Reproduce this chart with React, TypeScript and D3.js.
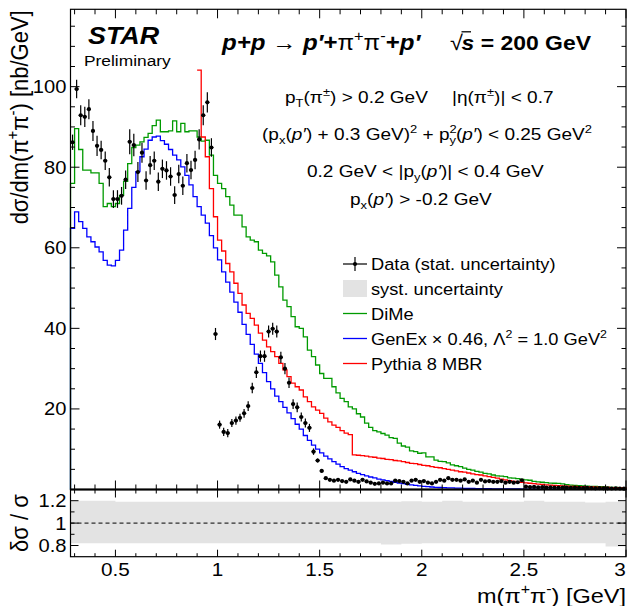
import React from "react";
import * as d3 from "d3";

const WIDTH = 632;
const HEIGHT = 606;

// invariant-mass binning (GeV)
const M_LO = 0.28;
const M_HI = 3.0;
const BIN = 0.02;

// measured cross section per 20 MeV bin [nb/GeV] and its statistical error
const dataValues = [
  86.2, 99.4, 92.9, 92.5, 94.4, 89.0, 85.3, 84.3, 81.6, 77.5,
  72.1, 72.1, 72.9, 76.9, 86.3, 85.5, 78.8, 83.6, 76.7, 80.5,
  81.6, 76.4, 79.6, 79.2, 77.7, 73.1, 78.3, 75.4, 81.0, 79.3,
  81.8, 86.9, 92.9, 96.1, 84.9, 38.6, 16.1, 14.3, 14.0, 16.5,
  17.1, 17.8, 18.9, 20.7, 25.2, 29.1, 33.1, 33.1, 39.2, 39.9,
  39.2, 32.8, 30.0, 26.5, 21.2, 20.4, 18.0, 16.5, 15.3, 9.4,
  7.2, 4.6, 2.8, 2.4, 2.2, 2.4, 2.1, 1.9, 2.5, 2.2,
  1.9, 2.4, 2.0, 1.7, 1.4, 1.5, 1.7, 1.5, 1.5, 2.2,
  2.1, 1.9, 1.5, 2.2, 2.4, 1.9, 2.1, 1.7, 1.5, 1.9,
  2.4, 2.2, 2.8, 2.4, 2.4, 2.2, 2.5, 1.9, 2.2, 1.7,
  2.4, 2.0, 2.1, 1.9, 1.9, 2.1, 1.7, 1.9, 1.7, 1.8,
  2.3, 0.7, 0.6, 0.65, 0.55, 0.6, 0.5, 0.55, 0.5, 0.45,
  0.5, 0.45, 0.4, 0.45, 0.4, 0.35, 0.4, 0.35, 0.3, 0.35,
  0.3, 0.3, 0.25, 0.3, 0.25, 0.2,
];
const dataErrors = [
  1.9, 2.3, 2.5, 2.5, 2.5, 2.5, 2.5, 2.3, 2.3, 2.3,
  2.2, 2.2, 2.2, 2.3, 3.1, 2.8, 2.5, 2.5, 2.3, 2.3,
  2.3, 2.3, 2.3, 2.3, 2.3, 2.2, 2.3, 2.3, 2.3, 2.3,
  2.3, 2.5, 2.5, 2.5, 2.3, 1.5, 1.0, 1.0, 1.0, 1.0,
  1.0, 1.0, 1.1, 1.2, 1.3, 1.4, 1.4, 1.4, 1.5, 1.5,
  1.5, 1.4, 1.4, 1.3, 1.2, 1.2, 1.1, 1.1, 1.0, 0.8,
  0.5, 0.4, 0.3, 0.25, 0.25, 0.25, 0.25, 0.25, 0.25, 0.25,
  0.25, 0.25, 0.25, 0.25, 0.25, 0.25, 0.25, 0.25, 0.25, 0.25,
  0.25, 0.25, 0.25, 0.25, 0.25, 0.25, 0.25, 0.25, 0.25, 0.25,
  0.25, 0.25, 0.25, 0.25, 0.25, 0.25, 0.25, 0.25, 0.25, 0.25,
  0.25, 0.25, 0.25, 0.25, 0.25, 0.25, 0.25, 0.25, 0.25, 0.25,
  0.25, 0.15, 0.15, 0.15, 0.15, 0.15, 0.15, 0.15, 0.15, 0.15,
  0.15, 0.15, 0.15, 0.15, 0.15, 0.15, 0.15, 0.15, 0.15, 0.15,
  0.15, 0.15, 0.15, 0.15, 0.15, 0.15,
];

// DiMe prediction, same binning
const dimeValues = [
  76.0, 89.6, 84.4, 79.3, 79.3, 78.6, 78.6, 76.0, 70.2, 71.0,
  70.2, 71.0, 73.0, 76.5, 80.9, 84.9, 85.5, 86.3, 87.4, 88.4,
  90.3, 91.7, 88.8, 88.8, 89.0, 91.5, 88.8, 90.9, 88.8, 89.0,
  89.0, 87.5, 86.5, 86.7, 83.0, 78.0, 76.0, 74.7, 72.7, 70.6,
  68.1, 68.1, 65.2, 62.7, 61.9, 61.5, 59.4, 58.6, 58.0, 56.5,
  53.2, 50.3, 47.0, 45.4, 42.9, 40.4, 40.0, 37.9, 34.6, 33.0,
  30.9, 28.8, 27.6, 27.6, 25.5, 24.0, 22.6, 21.8, 20.5, 20.0,
  18.8, 18.0, 16.5, 15.4, 14.6, 14.3, 13.9, 13.5, 12.9, 12.7,
  11.5, 10.8, 10.5, 9.6, 9.4, 9.0, 9.1, 8.1, 8.1, 7.3,
  7.0, 6.9, 6.6, 6.1, 5.9, 5.7, 5.3, 5.0, 4.8, 4.5,
  4.3, 4.0, 3.9, 3.6, 3.4, 3.3, 3.2, 2.9, 2.8, 2.7,
  2.5, 2.4, 2.3, 2.0, 1.9, 1.8, 1.7, 1.6, 1.55, 1.5,
  1.4, 1.2, 1.1, 1.0, 0.95, 0.9, 0.85, 0.8, 0.75, 0.7,
  0.7, 0.6, 0.55, 0.5, 0.4, 0.35,
];

// GenEx prediction (scaled by 0.46), same binning
const genexValues = [
  64.8, 68.9, 66.5, 64.8, 62.7, 61.5, 60.2, 59.0, 56.9, 55.7,
  55.5, 56.9, 59.4, 64.4, 69.8, 75.0, 78.9, 82.6, 84.5, 86.7,
  87.5, 87.7, 86.6, 85.7, 84.4, 83.0, 81.8, 80.1, 78.0, 75.6,
  72.7, 70.2, 68.1, 66.1, 63.0, 60.0, 57.0, 54.0, 51.5, 49.0,
  46.5, 44.0, 41.0, 38.5, 36.0, 33.6, 31.3, 29.0, 26.8, 25.0,
  23.2, 21.8, 20.4, 19.0, 17.6, 16.2, 15.0, 13.4, 12.2, 11.0,
  10.0, 9.1, 8.3, 7.6, 6.9, 6.3, 5.7, 5.2, 4.8, 4.4,
  4.0, 3.7, 3.4, 3.1, 2.9, 2.6, 2.4, 2.2, 2.0, 1.8,
  1.6, 1.45, 1.3, 1.15, 1.0, 0.9, 0.8, 0.7, 0.62, 0.55,
  0.5, 0.45, 0.42, 0.39, 0.36, 0.33, 0.3, 0.28, 0.26, 0.24,
  0.22, 0.2, 0.19, 0.18, 0.17, 0.16, 0.15, 0.14, 0.13, 0.12,
  0.11, 0.1, 0.1, 0.09, 0.09, 0.08, 0.08, 0.07, 0.07, 0.06,
  0.06, 0.06, 0.05, 0.05, 0.05, 0.04, 0.04, 0.04, 0.04, 0.03,
  0.03, 0.03, 0.03, 0.03, 0.02, 0.02,
];

// Pythia 8 MBR prediction, filled from 0.90 GeV onwards
const pythiaFirstEdge = 0.9;
const pythiaValues = [
  104.1, 87.5, 82.6, 74.7, 67.7, 61.9, 59.2, 56.1, 54.0, 51.2,
  48.7, 45.8, 43.7, 42.5, 40.8, 38.8, 37.1, 35.4, 34.2, 33.0,
  31.3, 29.7, 28.0, 26.4, 25.5, 24.7, 23.0, 21.8, 20.5, 19.7,
  18.9, 17.7, 16.8, 16.0, 15.4, 14.6, 14.0, 13.6,
  8.6, 8.5, 8.4, 8.3, 8.1, 8.0, 7.8, 7.7, 7.5, 7.4,
  7.2, 7.1, 6.9, 6.7, 6.5, 6.4, 6.2, 6.0, 5.9, 5.7,
  5.5, 5.4, 5.2, 5.0, 4.8, 4.6, 4.4, 4.3, 4.1, 3.9,
  3.7, 3.6, 3.4, 3.2, 3.0, 2.8, 2.6, 2.4, 2.2, 2.0,
  1.9, 1.8, 1.65, 1.55, 1.45, 1.35, 1.25, 1.15, 1.1, 1.0,
  0.95, 0.9, 0.85, 0.8, 0.75, 0.72, 0.7, 0.65, 0.62, 0.6,
  0.55, 0.52, 0.5, 0.47, 0.45, 0.42, 0.4,
];

// relative systematic uncertainty, upward and downward
const systEdges = [
  0.28, 0.4, 0.5, 0.6, 0.7, 0.8, 0.9, 1.0, 1.1, 1.2, 1.3, 1.4, 1.5, 1.6,
  1.7, 1.8, 1.9, 2.0, 2.1, 2.2, 2.3, 2.4, 2.5, 2.6, 2.7, 2.8, 2.9, 3.0,
];
const systUp = [
  0.2, 0.2, 0.19, 0.19, 0.19, 0.19, 0.19, 0.19, 0.19, 0.19, 0.19, 0.19, 0.19, 0.19,
  0.19, 0.19, 0.195, 0.19, 0.2, 0.19, 0.19, 0.19, 0.2, 0.19, 0.19, 0.185, 0.19,
];
const systDown = [
  0.18, 0.18, 0.18, 0.18, 0.18, 0.18, 0.18, 0.18, 0.18, 0.18, 0.18, 0.18, 0.18, 0.18,
  0.18, 0.19, 0.185, 0.18, 0.18, 0.18, 0.18, 0.18, 0.18, 0.18, 0.18, 0.18, 0.21,
];

const xMajorTicks = [0.5, 1, 1.5, 2, 2.5, 3];
const xTickLabels = ["0.5", "1", "1.5", "2", "2.5", "3"];
const yMajorTicks = [20, 40, 60, 80, 100];
const yTickLabels = ["20", "40", "60", "80", "100"];
const ratioMajorTicks = [0.8, 1, 1.2];
const ratioTickLabels = ["0.8", "1", "1.2"];

const COLORS = {
  dime: "#009a00",
  genex: "#0000ff",
  pythia: "#ff0000",
  syst: "#e3e3e3",
};

const FRAME = { left: 70.5, right: 626, top: 9.3, split: 489.5, bottom: 556.7 };
const SX = 1.12; // lettering is set slightly wide
const FONT = "'Liberation Sans', Arial, Helvetica, sans-serif";

type Seg = { t: string; sup?: boolean; sub?: boolean; it?: boolean; b?: boolean; dx?: number };

function Rich(props: {
  x: number;
  y: number;
  size: number;
  segs: Seg[];
  anchor?: "start" | "middle" | "end";
  rotate?: boolean;
  weight?: string;
  italic?: boolean;
}) {
  const { x, y, size, segs, anchor = "start", rotate = false, weight, italic } = props;
  let shift = 0;
  const spans = segs.map((s, i) => {
    const target = s.sup ? -0.42 * size : s.sub ? 0.26 * size : 0;
    const dy = target - shift;
    shift = target;
    const fs = s.sup || s.sub ? size * 0.68 : size;
    return (
      <tspan
        key={i}
        dx={s.dx}
        dy={dy !== 0 ? dy : undefined}
        fontSize={fs}
        fontStyle={s.it ? "italic" : undefined}
        fontWeight={s.b ? "bold" : undefined}
      >
        {s.t}
      </tspan>
    );
  });
  const tf = rotate
    ? `translate(${x},${y}) rotate(-90) scale(1,${SX})`
    : `translate(${x},${y}) scale(${SX},1)`;
  return (
    <text
      transform={tf}
      fontSize={size}
      textAnchor={anchor}
      fontWeight={weight}
      fontStyle={italic ? "italic" : undefined}
      style={{ whiteSpace: "pre" }}
    >
      {spans}
    </text>
  );
}

const t = (s: string): Seg[] => [{ t: s }];

export default function App() {
  const x = d3.scaleLinear().domain([M_LO, M_HI]).range([FRAME.left, FRAME.right]);
  const y = d3.scaleLinear().domain([0, 119.2]).range([FRAME.split, FRAME.top]);
  const yr = d3.scaleLinear().domain([0.7, 1.3]).range([FRAME.bottom, FRAME.split]);

  const step = d3
    .line<[number, number]>()
    .x((d) => x(d[0]))
    .y((d) => y(d[1]))
    .curve(d3.curveStepAfter);

  const histPoints = (firstEdge: number, vals: number[], fromZero: boolean) => {
    const pts: [number, number][] = [];
    if (fromZero) pts.push([firstEdge, 0]);
    vals.forEach((v, i) => pts.push([firstEdge + i * BIN, v]));
    const lastEdge = firstEdge + vals.length * BIN;
    pts.push([lastEdge, vals[vals.length - 1]]);
    pts.push([lastEdge, 0]);
    return pts;
  };

  const dimePath = step(histPoints(M_LO, dimeValues, true)) || "";
  const genexPath = step(histPoints(M_LO, genexValues, true)) || "";
  const pythiaPath = step(histPoints(pythiaFirstEdge, pythiaValues, false)) || "";

  const systArea =
    d3
      .area<[number, number, number]>()
      .x((d) => x(d[0]))
      .y0((d) => yr(1 - d[2]))
      .y1((d) => yr(1 + d[1]))
      .curve(d3.curveStepAfter)(
        systEdges.map((e, i) => {
          const k = Math.min(i, systUp.length - 1);
          return [e, systUp[k], systDown[k]] as [number, number, number];
        })
      ) || "";

  const xMinor = d3.range(3, 31).map((i) => i / 10);
  const isXMajor = (v: number) => xMajorTicks.some((m) => Math.abs(m - v) < 1e-6);
  const yMinor = d3.range(5, 120, 5);
  const ratioMinor = [0.8, 0.9, 1.0, 1.1, 1.2];
  const isRatioMajor = (v: number) => ratioMajorTicks.some((m) => Math.abs(m - v) < 1e-6);

  const tickStroke = { stroke: "#000", strokeWidth: 1 };

  const legendX0 = 343;
  const legendX1 = 367;
  const legendText = 371;
  const legendRows = [264, 288.5, 313.5, 338.5, 363.5];
  const lgSize = 16.3;

  return (
    <svg
      width={WIDTH}
      height={HEIGHT}
      viewBox={`0 0 ${WIDTH} ${HEIGHT}`}
      style={{ position: "absolute", left: 0, top: 0, background: "#fff" }}
      fontFamily={FONT}
    >
      <rect x={0} y={0} width={WIDTH} height={HEIGHT} fill="#fff" />

      {/* ratio panel: systematic band and unity line */}
      <path d={systArea} fill={COLORS.syst} />
      <line
        x1={FRAME.left}
        x2={FRAME.right}
        y1={yr(1)}
        y2={yr(1)}
        stroke="#000"
        strokeWidth={1}
        strokeDasharray="4,3"
      />

      {/* model histograms */}
      <g fill="none" strokeWidth={1.3}>
        <path d={dimePath} stroke={COLORS.dime} />
        <path d={pythiaPath} stroke={COLORS.pythia} />
        <path d={genexPath} stroke={COLORS.genex} />
      </g>

      {/* data points with statistical errors */}
      <g>
        {dataValues.map((v, i) => {
          const m = M_LO + (i + 0.5) * BIN;
          const cx = x(m);
          const cy = y(v);
          const e = dataErrors[i];
          return (
            <g key={i}>
              <line x1={cx} x2={cx} y1={y(v - e)} y2={y(v + e)} stroke="#000" strokeWidth={1.2} />
              <line
                x1={x(m - BIN / 2)}
                x2={x(m + BIN / 2)}
                y1={cy}
                y2={cy}
                stroke="#000"
                strokeWidth={1}
              />
              <circle cx={cx} cy={cy} r={2.1} fill="#000" />
            </g>
          );
        })}
      </g>

      {/* frames */}
      <rect
        x={FRAME.left}
        y={FRAME.top}
        width={FRAME.right - FRAME.left}
        height={FRAME.split - FRAME.top}
        fill="none"
        stroke="#000"
        strokeWidth={1.2}
      />
      <rect
        x={FRAME.left}
        y={FRAME.split}
        width={FRAME.right - FRAME.left}
        height={FRAME.bottom - FRAME.split}
        fill="none"
        stroke="#000"
        strokeWidth={1.2}
      />
      <line x1={FRAME.left} x2={FRAME.right} y1={FRAME.split} y2={FRAME.split} stroke="#000" strokeWidth={2.2} />

      {/* x ticks */}
      <g {...tickStroke}>
        {xMinor.map((v) => {
          const major = isXMajor(v);
          const px = x(v);
          const lm = major ? 9 : 5;
          const lr = major ? 8 : 4;
          const lb = major ? 7 : 3.5;
          return (
            <g key={v}>
              <line x1={px} x2={px} y1={FRAME.top} y2={FRAME.top + lm} />
              <line x1={px} x2={px} y1={FRAME.split} y2={FRAME.split - lm} />
              <line x1={px} x2={px} y1={FRAME.split} y2={FRAME.split + lr} />
              <line x1={px} x2={px} y1={FRAME.bottom} y2={FRAME.bottom - lb} />
            </g>
          );
        })}
      </g>

      {/* y ticks, main panel */}
      <g {...tickStroke}>
        {yMinor.map((v) => {
          const major = v % 20 === 0;
          const py = y(v);
          const l = major ? 9 : 4.5;
          return (
            <g key={v}>
              <line x1={FRAME.left} x2={FRAME.left + l} y1={py} y2={py} />
              <line x1={FRAME.right} x2={FRAME.right - l} y1={py} y2={py} />
            </g>
          );
        })}
      </g>

      {/* y ticks, ratio panel */}
      <g {...tickStroke}>
        {ratioMinor.map((v) => {
          const major = isRatioMajor(v);
          const py = yr(v);
          const l = major ? 8 : 4;
          return (
            <g key={v}>
              <line x1={FRAME.left} x2={FRAME.left + l} y1={py} y2={py} />
              <line x1={FRAME.right} x2={FRAME.right - l} y1={py} y2={py} />
            </g>
          );
        })}
      </g>

      {/* tick labels */}
      {yMajorTicks.map((v, i) => (
        <Rich key={v} x={FRAME.left - 4} y={y(v) + 6.5} size={18} anchor="end" segs={t(yTickLabels[i])} />
      ))}
      {ratioMajorTicks.map((v, i) => (
        <Rich key={v} x={FRAME.left - 4} y={yr(v) + 6.5} size={18} anchor="end" segs={t(ratioTickLabels[i])} />
      ))}
      {xMajorTicks.map((v, i) => (
        <Rich
          key={v}
          x={Math.min(x(v), FRAME.right - 6)}
          y={576}
          size={18.5}
          anchor="middle"
          segs={t(xTickLabels[i])}
        />
      ))}

      {/* axis titles */}
      <Rich
        x={FRAME.right}
        y={602.5}
        size={21}
        anchor="end"
        segs={[{ t: "m(π" }, { t: "+", sup: true }, { t: "π" }, { t: "-", sup: true }, { t: ") [GeV]" }]}
      />
      <Rich
        x={28}
        y={FRAME.top + 1}
        size={22}
        anchor="end"
        rotate
        segs={[
          { t: "dσ/dm(π" },
          { t: "+", sup: true },
          { t: "π" },
          { t: "-", sup: true },
          { t: ") [nb/GeV]" },
        ]}
      />
      <Rich x={28} y={yr(1)} size={22} anchor="middle" rotate segs={t("δσ / σ")} />

      {/* experiment tag and title */}
      <Rich x={88} y={43.5} size={24} weight="bold" italic segs={t("STAR")} />
      <Rich x={84} y={65.5} size={15.5} segs={t("Preliminary")} />
      <Rich
        x={222}
        y={50}
        size={21.5}
        segs={[
          { t: "p+p", b: true, it: true },
          { t: " → " },
          { t: "p′", b: true, it: true },
          { t: "+", b: true },
          { t: "π" },
          { t: "+", sup: true },
          { t: "π" },
          { t: "-", sup: true },
          { t: "+", b: true },
          { t: "p′", b: true, it: true },
        ]}
      />
      <Rich x={450} y={50} size={21} segs={t("√")} />
      <line x1={461.5} x2={471} y1={31.8} y2={31.8} stroke="#000" strokeWidth={1.3} />
      <Rich
        x={461.5}
        y={50}
        size={20.5}
        segs={[{ t: "s", b: true, it: true }, { t: " = 200 GeV", b: true }]}
      />

      {/* selection cuts */}
      <Rich
        x={285}
        y={103}
        size={17}
        segs={[{ t: "p" }, { t: "T", sub: true }, { t: "(π" }, { t: "±", sup: true }, { t: ") > 0.2 GeV" }]}
      />
      <Rich
        x={452}
        y={103}
        size={17}
        segs={[{ t: "|η(π" }, { t: "±", sup: true }, { t: ")| < 0.7" }]}
      />
      <Rich
        x={262}
        y={140}
        size={17}
        segs={[
          { t: "(p" },
          { t: "x", sub: true },
          { t: "(" },
          { t: "p′", it: true },
          { t: ") + 0.3 GeV)" },
          { t: "2", sup: true },
          { t: " + p" },
          { t: "2", sup: true },
          { t: "y", sub: true, dx: -6.5 },
          { t: "(" },
          { t: "p′", it: true },
          { t: ") < 0.25 GeV" },
          { t: "2", sup: true },
        ]}
      />
      <Rich
        x={307}
        y={176.5}
        size={17}
        segs={[
          { t: "0.2 GeV < |p" },
          { t: "y", sub: true },
          { t: "(" },
          { t: "p′", it: true },
          { t: ")| < 0.4 GeV" },
        ]}
      />
      <Rich
        x={350}
        y={205}
        size={17}
        segs={[{ t: "p" }, { t: "x", sub: true }, { t: "(" }, { t: "p′", it: true }, { t: ") > -0.2 GeV" }]}
      />

      {/* legend */}
      <g>
        <line x1={legendX0} x2={legendX1} y1={legendRows[0]} y2={legendRows[0]} stroke="#000" strokeWidth={1.2} />
        <line
          x1={(legendX0 + legendX1) / 2}
          x2={(legendX0 + legendX1) / 2}
          y1={legendRows[0] - 7}
          y2={legendRows[0] + 7}
          stroke="#000"
          strokeWidth={1.2}
        />
        <circle cx={(legendX0 + legendX1) / 2} cy={legendRows[0]} r={2.1} fill="#000" />
        <Rich x={legendText} y={legendRows[0] + 6} size={lgSize} segs={t("Data (stat. uncertainty)")} />

        <rect x={legendX0} y={legendRows[1] - 8.5} width={legendX1 - legendX0} height={17} fill={COLORS.syst} />
        <Rich x={legendText} y={legendRows[1] + 6} size={lgSize} segs={t("syst. uncertainty")} />

        <line x1={legendX0} x2={legendX1} y1={legendRows[2]} y2={legendRows[2]} stroke={COLORS.dime} strokeWidth={1.3} />
        <Rich x={legendText} y={legendRows[2] + 6} size={lgSize} segs={t("DiMe")} />

        <line x1={legendX0} x2={legendX1} y1={legendRows[3]} y2={legendRows[3]} stroke={COLORS.genex} strokeWidth={1.3} />
        <Rich
          x={legendText}
          y={legendRows[3] + 6}
          size={lgSize}
          segs={[
            { t: "GenEx × 0.46, Λ" },
            { t: "2", sup: true },
            { t: " = 1.0 GeV" },
            { t: "2", sup: true },
          ]}
        />

        <line x1={legendX0} x2={legendX1} y1={legendRows[4]} y2={legendRows[4]} stroke={COLORS.pythia} strokeWidth={1.3} />
        <Rich x={legendText} y={legendRows[4] + 6} size={lgSize} segs={t("Pythia 8 MBR")} />
      </g>
    </svg>
  );
}
